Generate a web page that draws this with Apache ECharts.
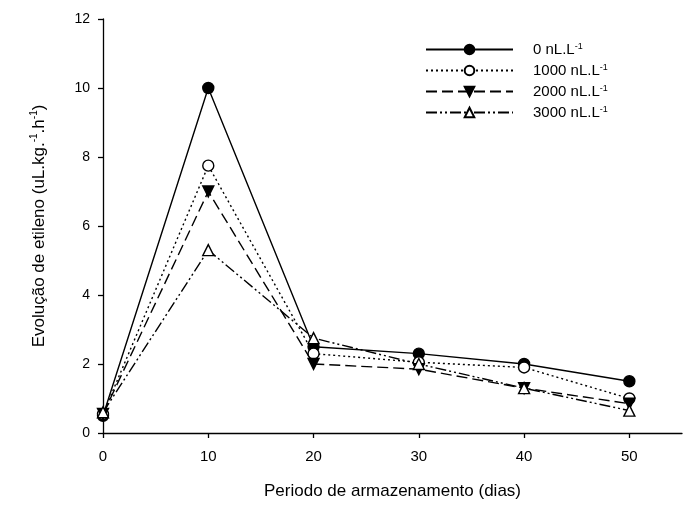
<!DOCTYPE html>
<html>
<head>
<meta charset="utf-8">
<script src="https://cdn.jsdelivr.net/npm/echarts@6/dist/echarts.min.js"></script>
<style>html,body{margin:0;padding:0;background:#fff}#c{width:685px;height:510px}</style>
</head>
<body>
<div id="c"></div>
<script>
var days = [0, 10, 20, 30, 40, 50];
var s0 = [0.5, 10.0, 2.5, 2.3, 2.0, 1.5];
var s1 = [0.55, 7.75, 2.3, 2.05, 1.9, 1.0];
var s2 = [0.55, 7.0, 2.0, 1.85, 1.3, 0.85];
var s3 = [0.6, 5.3, 2.75, 2.0, 1.3, 0.65];
var seriesNames = ['0 nL.L', '1000 nL.L', '2000 nL.L', '3000 nL.L'];
var xTicks = [0, 10, 20, 30, 40, 50];
var yTicks = [0, 2, 4, 6, 8, 10, 12];

var FONT = 'Liberation Sans, Arial, sans-serif';
function pairs(v){ return days.map(function(d,i){ return [d, v[i]]; }); }
function mk(name, data, lineType, symbol, fill){
  return {
    name: name, type: 'line', data: pairs(data),
    symbol: symbol, symbolSize: 11,
    lineStyle: {color: '#000', width: 1.4, type: lineType},
    itemStyle: {color: fill, borderColor: '#000', borderWidth: 1.4},
    emphasis: {disabled: true}, animation: false, z: 3
  };
}
var tri = 'path://M0,0 L10,0 L5,9 Z';
var chart = echarts.init(document.getElementById('c'), null, {renderer: 'canvas'});
chart.setOption({
  backgroundColor: '#fff',
  animation: false,
  grid: {left: 103, right: 3, top: 19, bottom: 77},
  legend: {
    orient: 'vertical', left: 420, top: 37,
    itemWidth: 87, itemHeight: 12, itemGap: 6,
    data: seriesNames,
    formatter: function(n){ return '{n|' + n + '}{s|-1}'; },
    textStyle: {
      color: '#000', fontFamily: FONT, padding: [0,0,0,15],
      rich: {
        n: {fontSize: 15, fontFamily: FONT, color: '#000', lineHeight: 14},
        s: {fontSize: 9, fontFamily: FONT, color: '#000', lineHeight: 6, verticalAlign: 'top'}
      }
    }
  },
  xAxis: {
    type: 'value', min: 0, max: 55, interval: 10,
    name: 'Periodo de armazenamento (dias)', nameLocation: 'middle', nameGap: 50,
    nameTextStyle: {fontSize: 17, fontFamily: FONT, color: '#000'},
    axisLine: {show: true, onZero: false, lineStyle: {color: '#000', width: 1.3}},
    axisTick: {show: true, length: 5, inside: false, customValues: xTicks, lineStyle: {color: '#000', width: 1.3}},
    axisLabel: {customValues: xTicks, fontSize: 15, fontFamily: FONT, color: '#000', margin: 16},
    splitLine: {show: false}
  },
  yAxis: {
    type: 'value', min: 0, max: 12, interval: 2,
    name: '{n|Evolução de etileno (uL.kg.}{s|-1}{n|.h}{s|-1}{n|)}',
    nameLocation: 'middle', nameGap: 54, nameRotate: 90,
    nameTextStyle: {
      fontFamily: FONT, color: '#000',
      rich: {
        n: {fontSize: 17, fontFamily: FONT, color: '#000', lineHeight: 20},
        s: {fontSize: 10, fontFamily: FONT, color: '#000', lineHeight: 10, verticalAlign: 'top'}
      }
    },
    axisLine: {show: true, onZero: false, lineStyle: {color: '#000', width: 1.3}},
    axisTick: {show: true, length: 5, inside: false, customValues: yTicks, lineStyle: {color: '#000', width: 1.3}},
    axisLabel: {customValues: yTicks, fontSize: 14, fontFamily: FONT, color: '#000', margin: 13},
    splitLine: {show: false}
  },
  series: [
    mk(seriesNames[0], s0, 'solid', 'circle', '#000'),
    mk(seriesNames[1], s1, [2, 3], 'circle', '#fff'),
    mk(seriesNames[2], s2, [11, 5], tri, '#000'),
    mk(seriesNames[3], s3, [11, 3, 2, 3, 2, 3], 'triangle', '#fff')
  ]
});
</script>
</body>
</html>
